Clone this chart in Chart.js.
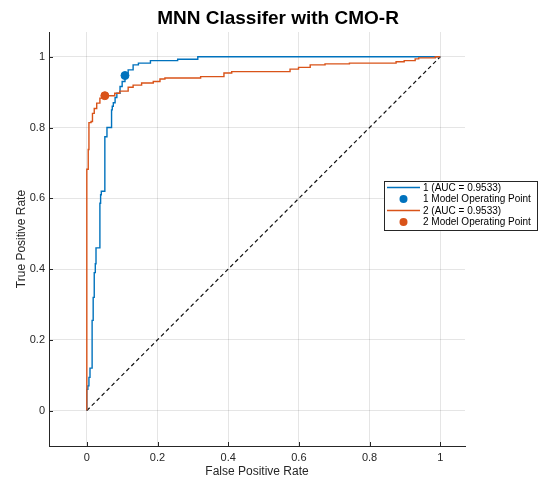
<!DOCTYPE html>
<html>
<head>
<meta charset="utf-8">
<script src="https://cdn.jsdelivr.net/npm/chart.js@4.4.0/dist/chart.umd.min.js"></script>
<style>
  html, body { margin: 0; padding: 0; background: #fff; }
</style>
</head>
<body>
<canvas id="roc" width="539" height="481"></canvas>
<script>
const titleText = 'MNN Classifer with CMO-R';
const xLabel = 'False Positive Rate';
const yLabel = 'True Positive Rate';
const tickValues = [0, 0.2, 0.4, 0.6, 0.8, 1];
const seriesLabels = ['1 (AUC = 0.9533)', '1 Model Operating Point', '2 (AUC = 0.9533)', '2 Model Operating Point'];

// ROC staircase for class 1 (x where the curve rises, tpr reached there)
const fpr1 = [0, 0, 0.003, 0.006, 0.009, 0.015, 0.018, 0.021, 0.024, 0.026, 0.037, 0.039, 0.041, 0.051, 0.057,
  0.07, 0.072, 0.075, 0.08, 0.085, 0.094, 0.1, 0.108, 0.117, 0.131, 0.146, 0.18, 0.257, 0.314, 1];
const tpr1 = [0, 0.06, 0.07, 0.094, 0.12, 0.255, 0.32, 0.39, 0.415, 0.46, 0.586, 0.61, 0.62, 0.774, 0.8,
  0.85, 0.86, 0.87, 0.885, 0.897, 0.916, 0.93, 0.947, 0.963, 0.977, 0.982, 0.989, 0.993, 1, 1];

// ROC staircase for class 2
const fpr2 = [0, 0, 0.004, 0.006, 0.012, 0.016, 0.021, 0.028, 0.037, 0.045, 0.079, 0.093, 0.117, 0.131, 0.155,
  0.188, 0.207, 0.221, 0.322, 0.388, 0.41, 0.575, 0.599, 0.632, 0.674, 0.743, 0.875, 0.898, 0.929, 0.939, 0.986, 1];
const tpr2 = [0, 0.682, 0.738, 0.814, 0.817, 0.84, 0.854, 0.869, 0.883, 0.89, 0.897, 0.903, 0.914, 0.92, 0.926,
  0.93, 0.937, 0.94, 0.944, 0.954, 0.958, 0.965, 0.97, 0.977, 0.98, 0.982, 0.986, 0.989, 0.994, 0.997, 1, 1];

const opFpr = [0.108, 0.051];
const opTpr = [0.947, 0.890];

const diagX = [0, 1];
const diagY = [0, 1];

const blue = '#0072BD';
const orange = '#D95319';
const axisColor = '#262626';
const fontFamily = '"Liberation Sans", Arial, sans-serif';

const toPoints = (xs, ys) => xs.map((x, i) => ({ x: x, y: ys[i] }));

// draws inward ticks, the title and the boxed legend
const extras = {
    id: 'extras',
    afterDraw(chart) {
        const ctx = chart.ctx;
        const area = chart.chartArea;
        const xs = chart.scales.x;
        const ys = chart.scales.y;
        ctx.save();

        ctx.strokeStyle = axisColor;
        ctx.lineWidth = 1;
        ctx.beginPath();
        tickValues.forEach((v) => {
            const px = Math.round(xs.getPixelForValue(v)) + 0.5;
            ctx.moveTo(px, area.bottom);
            ctx.lineTo(px, area.bottom - 4);
            const py = Math.round(ys.getPixelForValue(v)) + 0.5;
            ctx.moveTo(area.left, py);
            ctx.lineTo(area.left + 4, py);
        });
        ctx.stroke();

        ctx.fillStyle = '#000';
        ctx.font = 'bold 19px ' + fontFamily;
        ctx.textAlign = 'center';
        ctx.textBaseline = 'middle';
        ctx.fillText(titleText, 278, 19);

        // legend
        const lx = 384, ly = 181, lw = 153, lh = 49;
        ctx.fillStyle = '#fff';
        ctx.fillRect(lx, ly, lw, lh);
        ctx.strokeStyle = axisColor;
        ctx.lineWidth = 1;
        ctx.strokeRect(lx + 0.5, ly + 0.5, lw, lh);
        const rows = [187.5, 199, 210.5, 222];
        const ds = chart.data.datasets;
        ctx.font = '10px ' + fontFamily;
        ctx.textAlign = 'left';
        ctx.textBaseline = 'middle';
        [0, 1, 2, 3].forEach((i) => {
            const d = ds[i];
            const y = rows[i];
            if (d.showLine) {
                ctx.strokeStyle = d.borderColor;
                ctx.lineWidth = 1.4;
                ctx.beginPath();
                ctx.moveTo(387, y);
                ctx.lineTo(420, y);
                ctx.stroke();
            } else {
                ctx.fillStyle = d.backgroundColor;
                ctx.beginPath();
                ctx.arc(403.5, y, 4, 0, Math.PI * 2);
                ctx.fill();
            }
            ctx.fillStyle = '#000';
            ctx.fillText(d.label, 423, y + 0.5);
        });
        ctx.restore();
    }
};

const setTicks = (scale) => {
    scale.ticks = tickValues.map((v) => ({ value: v }));
};

new Chart(document.getElementById('roc').getContext('2d'), {
    type: 'scatter',
    data: {
        datasets: [
            {
                label: seriesLabels[0],
                data: toPoints(fpr1, tpr1),
                showLine: true,
                stepped: true,
                borderColor: blue,
                borderWidth: 1.4,
                pointRadius: 0,
                order: 2,
            },
            {
                label: seriesLabels[1],
                data: toPoints([opFpr[0]], [opTpr[0]]),
                showLine: false,
                backgroundColor: blue,
                borderColor: blue,
                pointRadius: 4,
                order: 0,
            },
            {
                label: seriesLabels[2],
                data: toPoints(fpr2, tpr2),
                showLine: true,
                stepped: true,
                borderColor: orange,
                borderWidth: 1.4,
                pointRadius: 0,
                order: 1,
            },
            {
                label: seriesLabels[3],
                data: toPoints([opFpr[1]], [opTpr[1]]),
                showLine: false,
                backgroundColor: orange,
                borderColor: orange,
                pointRadius: 4,
                order: 0,
            },
            {
                label: 'diagonal',
                data: toPoints(diagX, diagY),
                showLine: true,
                borderColor: '#111',
                borderWidth: 1.2,
                borderDash: [4, 3],
                pointRadius: 0,
                order: 3,
            },
        ],
    },
    options: {
        responsive: false,
        animation: false,
        events: [],
        layout: { padding: { top: 32, right: 74, left: 0, bottom: 0 } },
        plugins: {
            legend: { display: false },
            title: { display: false },
            tooltip: { enabled: false },
        },
        scales: {
            x: {
                type: 'linear',
                min: -0.107,
                max: 1.07,
                afterBuildTicks: setTicks,
                afterFit: (scale) => { scale.height = 35; },
                grid: { color: 'rgba(38,38,38,0.12)', drawTicks: false },
                border: { display: true, color: axisColor, width: 1 },
                ticks: {
                    padding: 5,
                    color: axisColor,
                    font: { family: fontFamily, size: 11 },
                    callback: (v) => String(Math.round(v * 10) / 10),
                },
                title: {
                    display: true,
                    text: xLabel,
                    color: axisColor,
                    font: { family: fontFamily, size: 12 },
                    padding: { top: 0, bottom: 2 },
                },
            },
            y: {
                type: 'linear',
                min: -0.1,
                max: 1.07,
                afterBuildTicks: setTicks,
                afterFit: (scale) => { scale.width = 49; },
                grid: { color: 'rgba(38,38,38,0.12)', drawTicks: false },
                border: { display: true, color: axisColor, width: 1 },
                ticks: {
                    padding: 4,
                    color: axisColor,
                    font: { family: fontFamily, size: 11 },
                    callback: (v) => String(Math.round(v * 10) / 10),
                },
                title: {
                    display: true,
                    text: yLabel,
                    color: axisColor,
                    font: { family: fontFamily, size: 12 },
                    padding: { top: 14, bottom: 0 },
                },
            },
        },
    },
    plugins: [extras],
});
</script>
</body>
</html>
